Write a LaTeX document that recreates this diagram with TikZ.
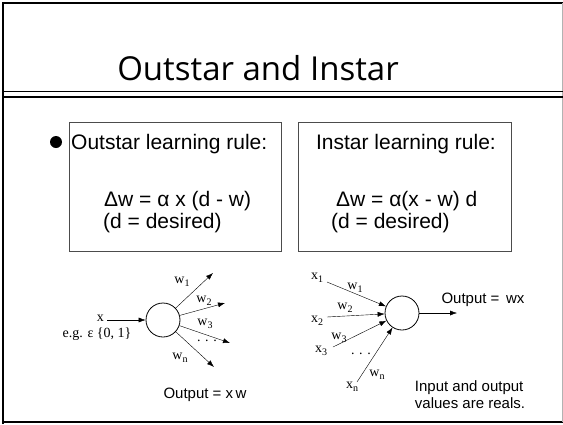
\documentclass[tikz,border=0pt]{standalone}
\usepackage{fontspec}
\setmainfont{Liberation Serif}
\setsansfont{Liberation Sans}
\newfontfamily\titlefont{Open Sans}
\usetikzlibrary{arrows.meta}

\newcommand{\wsub}[1]{\raisebox{-3.5pt}{\fontsize{10}{12}\selectfont #1}}

\tikzset{
  neuron/.style={draw, circle, minimum size=34pt, inner sep=0pt, line width=0.8pt},
  rulebox/.style={draw=black!70, line width=0.9pt},
  wlabel/.style={font=\fontsize{14}{16}\selectfont, inner sep=0pt},
  slabel/.style={font=\sffamily\fontsize{15}{17}\selectfont, inner sep=0pt},
  rtext/.style={font=\sffamily\fontsize{21}{24}\selectfont, inner sep=0pt, anchor=base west},
  >={Latex[length=7pt, width=5pt]}
}

\begin{document}
\begin{tikzpicture}[x=1pt, y=-1pt]

  \useasboundingbox (0,0) rectangle (563,424);

  % slide frame
  \draw [line width=2pt] (3,424) -- (3,3) -- (563,3);
  \draw [line width=2pt] (3,422) -- (563,422);
  \draw [black!30, line width=1pt] (562,3) -- (562,422);
  \draw [line width=0.8pt] (3,91) -- (563,91);
  \draw [line width=2.2pt] (3,97) -- (563,97);

  \node (title) at (258,68) {\titlefont\fontsize{33}{38}\selectfont Outstar and Instar};

  % the two rules
  \fill (56,142) circle [radius=6];
  \draw [rulebox] (69,122) rectangle (281,251);
  \draw [rulebox] (298,122) rectangle (511,251);

  \node [rtext] (outrule) at (71,149) {Outstar learning rule:};
  \node [rtext] (outeq) at (104,206) {Δw = α x (d - w)};
  \node [rtext] (outdes) at (103,228) {(d = desired)};

  \node [rtext, anchor=base] (inrule) at (406,149) {Instar learning rule:};
  \node [rtext] (ineq) at (336,206) {Δw = α(x - w) d};
  \node [rtext] (indes) at (331,228) {(d = desired)};

  % outstar
  \node [neuron] (OC) at (163,320) {};
  \coordinate (OX) at (107,320);
  \coordinate (OW1) at (213,273);
  \coordinate (OW2) at (225,303);
  \coordinate (OW3) at (230,343);
  \coordinate (OWN) at (214,367);

  \draw [->] (OX) -- (OC);
  \draw [->] (OC) -- (OW1);
  \draw [->] (OC) -- (OW2);
  \draw [->] (OC) -- (OW3);
  \draw [->] (OC) -- (OWN);

  \node [wlabel, anchor=east] (ox) at (104,318) {x};
  \node [wlabel] (oeg) at (97,334) {e.g. ε \{0, 1\}};
  \node [wlabel] (ow1) at (182,282) {w\wsub{1}};
  \node [wlabel] (ow2) at (204,301) {w\wsub{2}};
  \node [wlabel] (ow3) at (205,324) {w\wsub{3}};
  \node [wlabel] (own) at (180,358) {w\wsub{n}};
  \node [wlabel] (odots) at (207,341) {.\,\,.\,\,.};
  \node [slabel] (oout) at (205,395) {Output = x\,w};

  % instar
  \node [neuron] (IC) at (402,313) {};
  \coordinate (IX1) at (327,282);
  \coordinate (IX2) at (327,317);
  \coordinate (IX3) at (333,347);
  \coordinate (IXN) at (357,382);
  \coordinate (IO) at (457,313);

  \draw [->] (IX1) -- (IC);
  \draw [->] (IX2) -- (IC);
  \draw [->] (IX3) -- (IC);
  \draw [->] (IXN) -- (IC);
  \draw [->] (IC) -- (IO);

  \node [wlabel] (ix1) at (317,278) {x\wsub{1}};
  \node [wlabel] (ix2) at (317,321) {x\wsub{2}};
  \node [wlabel] (ix3) at (321,351) {x\wsub{3}};
  \node [wlabel] (ixn) at (352,387) {x\wsub{n}};
  \node [wlabel] (iw1) at (355,288) {w\wsub{1}};
  \node [wlabel] (iw2) at (345,308) {w\wsub{2}};
  \node [wlabel] (iw3) at (339,338) {w\wsub{3}};
  \node [wlabel] (iwn) at (377,375) {w\wsub{n}};
  \node [wlabel] (idots) at (361,354) {.\,\,.\,\,.};
  \node [slabel] (iout) at (483,300) {Output = \,wx};
  \node [slabel, align=left] (ireal) at (470,395) {Input and output\\values are reals.};

\end{tikzpicture}
\end{document}
